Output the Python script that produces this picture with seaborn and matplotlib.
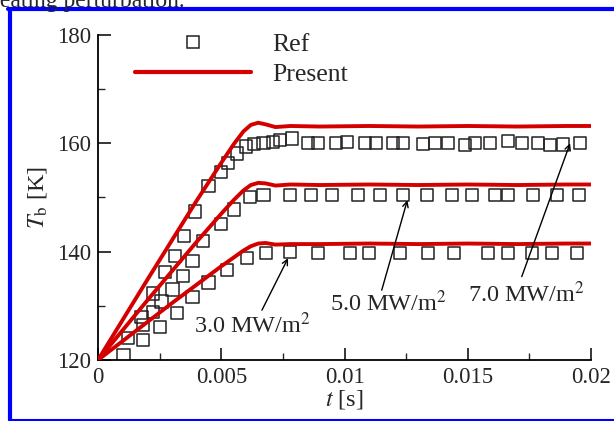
import numpy as np
import pandas as pd
import matplotlib
matplotlib.use('Agg')
import matplotlib.pyplot as plt
import seaborn as sns
from matplotlib.lines import Line2D
from matplotlib.ticker import MultipleLocator

# Present (simulation) curves
t_present = [0, 0.001, 0.002, 0.003, 0.004, 0.005, 0.0055, 0.0059, 0.0062, 0.0065,
             0.0068, 0.0072, 0.0078, 0.009, 0.011, 0.013, 0.015, 0.017, 0.019, 0.020]
T_present_7 = [120, 127.4, 134.8, 142.1, 149.4, 156.4, 159.8, 162.2, 163.4, 163.8,
               163.5, 163.0, 163.2, 163.1, 163.2, 163.1, 163.2, 163.1, 163.2, 163.2]
T_present_5 = [120, 125.5, 131.0, 136.4, 141.8, 147.0, 149.5, 151.3, 152.3, 152.7,
               152.6, 152.2, 152.4, 152.3, 152.4, 152.3, 152.4, 152.3, 152.4, 152.4]
T_present_3 = [120, 123.5, 127.0, 130.5, 133.9, 137.3, 138.9, 140.2, 141.0, 141.5,
               141.6, 141.3, 141.4, 141.4, 141.5, 141.4, 141.5, 141.4, 141.5, 141.5]

# Reference data (squares)
t_ref_7 = [0.00123, 0.00177, 0.00224, 0.00272, 0.00312, 0.00350, 0.00394, 0.00448,
           0.00499, 0.00526, 0.00563, 0.00599, 0.00634, 0.00671, 0.0071, 0.00738,
           0.00787, 0.00852, 0.00892, 0.00966, 0.0101, 0.01083, 0.01128, 0.01197,
           0.01237, 0.01318, 0.01367, 0.0142, 0.01489, 0.01529, 0.0159, 0.01663,
           0.0172, 0.01785, 0.01834, 0.01886, 0.01955]
T_ref_7 = [124.0, 128.0, 132.3, 136.3, 139.2, 142.9, 147.4, 152.1,
           154.7, 156.4, 158.1, 159.4, 159.9, 160.0, 160.3, 160.6,
           160.9, 160.0, 160.0, 160.1, 160.2, 160.0, 160.1, 160.1,
           160.0, 159.9, 160.0, 160.0, 159.7, 160.0, 160.0, 160.4,
           160.0, 160.0, 159.7, 159.8, 160.1]

t_ref_5 = [0.00184, 0.00224, 0.00258, 0.00302, 0.00346, 0.00383, 0.00427, 0.00499,
           0.00553, 0.00617, 0.00671, 0.00779, 0.00864, 0.00949, 0.01055, 0.01144,
           0.01237, 0.01335, 0.01436, 0.01517, 0.0161, 0.01663, 0.01765, 0.01862, 0.0195]
T_ref_5 = [126.5, 128.9, 130.8, 133.0, 135.5, 138.3, 142.0, 145.1,
           147.8, 150.1, 150.4, 150.5, 150.5, 150.5, 150.4, 150.4,
           150.5, 150.4, 150.4, 150.4, 150.4, 150.5, 150.4, 150.4, 150.4]

t_ref_3 = [0.00103, 0.00184, 0.00252, 0.00319, 0.00383, 0.00448, 0.00522, 0.00603,
           0.00682, 0.00779, 0.00892, 0.01022, 0.01099, 0.01225, 0.01339, 0.01444,
           0.01582, 0.01663, 0.01761, 0.01842, 0.01943]
T_ref_3 = [120.9, 123.7, 126.1, 128.7, 131.6, 134.3, 136.6, 138.8,
           139.7, 139.9, 139.8, 139.8, 139.8, 139.8, 139.8, 139.8,
           139.8, 139.8, 139.8, 139.8, 139.8]

x_ticks = [0, 0.005, 0.01, 0.015, 0.02]
x_tick_labels = ['0', '0.005', '0.01', '0.015', '0.02']
y_ticks = [120, 140, 160, 180]

red = '#d40000'

sns.set_style('ticks')
plt.rcParams['font.family'] = ['Liberation Serif', 'DejaVu Serif']
plt.rcParams['mathtext.fontset'] = 'stix'

present = pd.concat([
    pd.DataFrame({'t': t_present, 'T': T_present_7, 'q': '7.0'}),
    pd.DataFrame({'t': t_present, 'T': T_present_5, 'q': '5.0'}),
    pd.DataFrame({'t': t_present, 'T': T_present_3, 'q': '3.0'}),
])
ref = pd.concat([
    pd.DataFrame({'t': t_ref_7, 'T': T_ref_7, 'q': '7.0'}),
    pd.DataFrame({'t': t_ref_5, 'T': T_ref_5, 'q': '5.0'}),
    pd.DataFrame({'t': t_ref_3, 'T': T_ref_3, 'q': '3.0'}),
])

fig = plt.figure(figsize=(6.14, 4.21), dpi=100)
ax = fig.add_axes([0.1596, 0.1449, 0.803, 0.772])

sns.scatterplot(data=ref, x='t', y='T', marker='s', s=78, facecolor='none',
                edgecolor='#222222', linewidth=1.1, legend=False, ax=ax, zorder=2)
sns.lineplot(data=present, x='t', y='T', units='q', estimator=None, color=red,
             linewidth=2.8, legend=False, ax=ax, zorder=3)

ax.set_xlim(0, 0.02)
ax.set_ylim(120, 180)
ax.set_xticks(x_ticks)
ax.set_xticklabels(x_tick_labels)
ax.set_yticks(y_ticks)
ax.xaxis.set_minor_locator(MultipleLocator(0.0025))
ax.yaxis.set_minor_locator(MultipleLocator(10))
ax.tick_params(which='major', direction='in', length=9, width=1.3, labelsize=16.5, pad=5)
ax.tick_params(which='minor', direction='in', length=5, width=1.0)
sns.despine(ax=ax)
for s in ['left', 'bottom']:
    ax.spines[s].set_linewidth(1.3)
    ax.spines[s].set_color('black')

ax.set_xlabel(r'$t$ [s]', fontsize=17.5)
ax.set_ylabel(r'$T_\mathrm{b}$ [K]', fontsize=17.5)
ax.xaxis.set_label_coords(0.5, -0.085)
ax.yaxis.set_label_coords(-0.10, 0.5)

# legend
handles = [Line2D([], [], marker='s', linestyle='none', markersize=8.8,
                  markerfacecolor='none', markeredgecolor='#222222', markeredgewidth=1.1),
           Line2D([], [], color=red, linewidth=3.0)]
ax.legend(handles, ['Ref', 'Present'], loc='upper left', bbox_to_anchor=(0.075, 1.005),
          frameon=False, fontsize=18.5, handlelength=4.5, handletextpad=0.85,
          labelspacing=0.25, borderpad=0, borderaxespad=0)

# annotations
arrow = dict(arrowstyle='->', color='black', lw=1.0, shrinkA=0, shrinkB=0)
ax.annotate('', xy=(0.00771, 138.8), xytext=(0.00665, 129.2), arrowprops=arrow)
ax.annotate('', xy=(0.01255, 149.5), xytext=(0.01151, 132.9), arrowprops=arrow)
ax.annotate('', xy=(0.01915, 160.0), xytext=(0.01719, 135.4), arrowprops=arrow)
ax.text(0.00625, 125.0, r'3.0 MW/m$^2$', ha='center', va='baseline', fontsize=17.5)
ax.text(0.0118, 129.0, r'5.0 MW/m$^2$', ha='center', va='baseline', fontsize=17.5)
ax.text(0.0174, 130.7, r'7.0 MW/m$^2$', ha='center', va='baseline', fontsize=17.5)

# cropped caption text and blue frame of the source page
fig.text(-0.02, 1 - 7.5 / 421, 'heating perturbation.', fontsize=17, va='baseline', ha='left')
blue = '#0000ff'
fig.add_artist(Line2D([8 / 614, 1], [1 - 9 / 421] * 2, color=blue, linewidth=3,
                      transform=fig.transFigure))
fig.add_artist(Line2D([10 / 614] * 2, [1 - 9 / 421, 1 - 419.5 / 421], color=blue,
                      linewidth=3, transform=fig.transFigure))
fig.add_artist(Line2D([10 / 614, 1], [1 - 419.5 / 421] * 2, color=blue, linewidth=1.5,
                      transform=fig.transFigure))

fig.savefig('out.png', dpi=100)
